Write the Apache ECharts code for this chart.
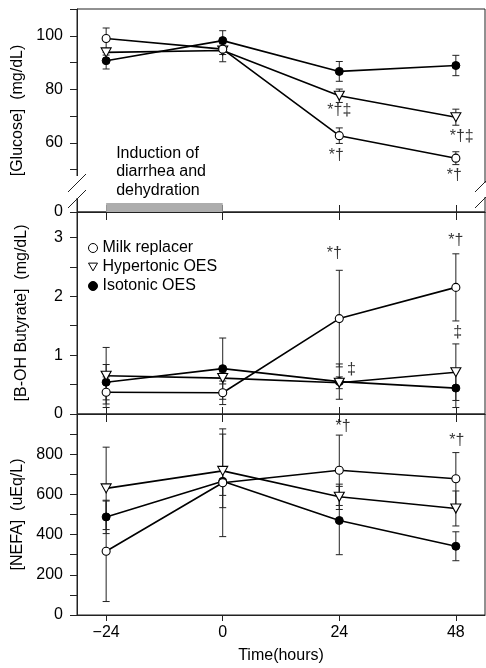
<!DOCTYPE html>
<html>
<head>
<meta charset="utf-8">
<script src="https://cdn.jsdelivr.net/npm/echarts@6/dist/echarts.min.js"></script>
<style>
  html, body { margin: 0; padding: 0; background: #fff; }
  #main { width: 486px; height: 668px; }
</style>
</head>
<body>
<div id="main"></div>
<script>
// time points (hours)
var hours = [-24, 0, 24, 48];

// [Glucose] mg/dL, mean and SE
var milkGlu = [99.0, 95.0, 62.7, 54.3];
var milkGluSE = [3.9, 2.0, 2.9, 2.4];
var hyperGlu = [93.8, 94.5, 77.6, 69.6];
var hyperGluSE = [1.0, 4.2, 2.5, 3.0];
var isoGlu = [90.7, 98.2, 86.7, 88.9];
var isoGluSE = [3.1, 3.7, 3.7, 3.8];

// [B-OH Butyrate] mg/dL
var milkBhb = [0.37, 0.36, 1.62, 2.15];
var milkBhbSE = [0.26, 0.20, 0.82, 0.57];
var hyperBhb = [0.65, 0.61, 0.53, 0.71];
var hyperBhbSE = [0.48, 0.10, 0.10, 0.48];
var isoBhb = [0.54, 0.77, 0.55, 0.44];
var isoBhbSE = [0.30, 0.52, 0.30, 0.33];

// [NEFA] uEq/L
var milkNefa = [317, 658, 720, 678];
var milkNefaSE = [250, 268, 175, 130];
var hyperNefa = [630, 717, 588, 530];
var hyperNefaSE = [205, 183, 63, 87];
var isoNefa = [488, 665, 470, 342];
var isoNefaSE = [83, 70, 170, 72];

// significance marks [x, y, text]
var gluMarks = [[24, 72.0, '*†‡'], [23.4, 55.1, '*†'], [49.2, 62.2, '*†‡'], [47.7, 47.7, '*†']];
var bhbMarks = [[23, 2.73, '*†'], [26.5, 0.75, '‡'], [48, 2.95, '*†'], [48.4, 1.38, '‡']];
var nefaMarks = [[24.8, 935, '*†'], [48.2, 870, '*†']];

// tick labels
var xTicks = [-24, 0, 24, 48];
var gluLabels = [60, 80, 100];
var gluMinor = [50, 60, 70, 80, 90, 100, 110];
var bhbLabels = [0, 1, 2, 3];
var bhbMinor = [0, 0.5, 1, 1.5, 2, 2.5, 3];
var nefaLabels = [0, 200, 400, 600, 800];
var nefaMinor = [0, 100, 200, 300, 400, 500, 600, 700, 800, 900, 1000];

// induction period
var induction = [-24, 0];

var GLU_BREAK = 34.2;   // value drawn as "0" below the axis break
var FONT = 'Liberation Sans, Arial, sans-serif';
var TRI = 'path://M0,0L10,0L5,8.66Z';
var names = ['Milk replacer', 'Hypertonic OES', 'Isotonic OES'];

var myChart = echarts.init(document.getElementById('main'));

function pairs(vals) {
  return hours.map(function (h, i) { return [h, vals[i]]; });
}
function errs(vals, se) {
  return hours.map(function (h, i) { return [h, vals[i] - se[i], vals[i] + se[i]]; });
}

function renderErr(params, api) {
  var x = api.value(0);
  var top = api.coord([x, api.value(2)]);
  var bot = api.coord([x, api.value(1)]);
  var w = 3.5;
  var st = { stroke: '#222', lineWidth: 1 };
  return {
    type: 'group',
    children: [
      { type: 'line', shape: { x1: top[0], y1: top[1], x2: bot[0], y2: bot[1] }, style: st },
      { type: 'line', shape: { x1: top[0] - w, y1: top[1], x2: top[0] + w, y2: top[1] }, style: st },
      { type: 'line', shape: { x1: bot[0] - w, y1: bot[1], x2: bot[0] + w, y2: bot[1] }, style: st }
    ]
  };
}

var styles = [
  { symbol: 'circle', symbolSize: 8, itemStyle: { color: '#fff', borderColor: '#000', borderWidth: 1.1 } },
  { symbol: TRI, symbolSize: [10, 9], itemStyle: { color: '#fff', borderColor: '#000', borderWidth: 1.1 } },
  { symbol: 'circle', symbolSize: 8, itemStyle: { color: '#000', borderColor: '#000', borderWidth: 1 } }
];

function panel(idx, sets, marks) {
  var out = [];
  sets.forEach(function (s, k) {
    out.push({
      type: 'custom', name: names[k], xAxisIndex: idx.x, yAxisIndex: idx.y,
      renderItem: renderErr, data: errs(s[0], s[1]), encode: { x: 0, y: [1, 2] },
      itemStyle: styles[k].itemStyle, z: 1, silent: true
    });
  });
  sets.forEach(function (s, k) {
    out.push({
      type: 'line', name: names[k], xAxisIndex: idx.x, yAxisIndex: idx.y,
      data: pairs(s[0]), symbol: styles[k].symbol, symbolSize: styles[k].symbolSize,
      showAllSymbol: true, itemStyle: styles[k].itemStyle,
      lineStyle: { color: '#000', width: 1.6 }, z: 3.5 - k * 0.1, silent: true
    });
  });
  out.push({
    type: 'scatter', xAxisIndex: idx.x, yAxisIndex: idx.y, data: marks,
    symbolSize: 1, itemStyle: { color: 'rgba(0,0,0,0)' }, z: 5, silent: true,
    label: {
      show: true, position: 'inside', color: '#000', fontSize: 16, fontFamily: FONT,
      formatter: function (p) { return p.value[2]; }
    }
  });
  return out;
}

function xAx(grid, pos, inside, len, showLabel) {
  return {
    type: 'value', gridIndex: grid, position: pos, min: -30, max: 54,
    splitLine: { show: false },
    axisLine: { show: true, onZero: false, lineStyle: { color: '#222', width: 1 } },
    axisTick: { show: true, inside: inside, length: len, customValues: xTicks, lineStyle: { color: '#222' } },
    axisLabel: {
      show: showLabel, customValues: xTicks, margin: 10, color: '#000', fontSize: 16, fontFamily: FONT,
      formatter: function (v) { return v < 0 ? '\u2212' + Math.abs(v) : String(v); }
    }
  };
}

function yAx(grid, min, max, labels, minor, name, fmt, nameGap) {
  return {
    type: 'value', gridIndex: grid, min: min, max: max, position: 'left',
    name: name, nameLocation: 'middle', nameGap: nameGap, nameRotate: 90,
    nameTextStyle: { color: '#000', fontSize: 16, fontFamily: FONT },
    splitLine: { show: false },
    axisLine: { show: true, onZero: false, lineStyle: { color: '#222', width: 1 } },
    axisTick: { show: true, inside: false, length: 7, customValues: minor, lineStyle: { color: '#222' } },
    axisLabel: {
      customValues: labels, margin: 14, color: '#000', fontSize: 16, fontFamily: FONT,
      formatter: fmt || function (v) { return String(v); }
    }
  };
}

var gridBase = { left: 77, right: 1, show: true, borderColor: '#222', borderWidth: 1,
  backgroundColor: 'transparent', containLabel: false, outerBoundsMode: 'none' };

var xName = xAx(2, 'bottom', false, 6, true);
xName.name = 'Time(hours)';
xName.nameLocation = 'middle';
xName.nameGap = 33;
xName.nameTextStyle = { color: '#000', fontSize: 16, fontFamily: FONT };

var series = []
  .concat(panel({ x: 0, y: 0 }, [[milkGlu, milkGluSE], [hyperGlu, hyperGluSE], [isoGlu, isoGluSE]], gluMarks))
  .concat(panel({ x: 2, y: 1 }, [[milkBhb, milkBhbSE], [hyperBhb, hyperBhbSE], [isoBhb, isoBhbSE]], bhbMarks))
  .concat(panel({ x: 4, y: 2 }, [[milkNefa, milkNefaSE], [hyperNefa, hyperNefaSE], [isoNefa, isoNefaSE]], nefaMarks));

// induction period bar on the glucose panel
series.push({
  type: 'line', xAxisIndex: 0, yAxisIndex: 0, data: [], silent: true,
  markArea: {
    silent: true,
    itemStyle: { color: '#adadad' },
    label: {
      show: true, position: [10, -59], align: 'left', verticalAlign: 'top',
      color: '#000', fontSize: 16, lineHeight: 18.5, fontFamily: FONT,
      formatter: 'Induction of\ndiarrhea and\ndehydration'
    },
    data: [[{ coord: [induction[0], GLU_BREAK] }, { coord: [induction[1], GLU_BREAK + 3.4] }]]
  }
});

var option = {
  animation: false,
  backgroundColor: '#fff',
  textStyle: { fontFamily: FONT },
  grid: [
    Object.assign({ top: 9, height: 203 }, gridBase),
    Object.assign({ top: 212, height: 202 }, gridBase),
    Object.assign({ top: 414, height: 201 }, gridBase)
  ],
  legend: {
    orient: 'vertical', left: 83, top: 235, itemWidth: 9, itemHeight: 9, itemGap: 3,
    selectedMode: false,
    textStyle: { fontSize: 16, color: '#000', lineHeight: 16, fontFamily: FONT },
    data: [
      { name: names[0], icon: 'circle', itemStyle: { color: '#fff', borderColor: '#000', borderWidth: 1 } },
      { name: names[1], icon: TRI, itemStyle: { color: '#fff', borderColor: '#000', borderWidth: 1 } },
      { name: names[2], icon: 'circle', itemStyle: { color: '#000', borderColor: '#000', borderWidth: 1 } }
    ]
  },
  xAxis: [
    xAx(0, 'bottom', true, 7, false),
    xAx(1, 'top', true, 8, false),
    xAx(1, 'bottom', true, 7, false),
    xAx(2, 'top', true, 8, false),
    xName
  ],
  yAxis: [
    yAx(0, GLU_BREAK, 110, [GLU_BREAK].concat(gluLabels), [GLU_BREAK].concat(gluMinor),
      '[Glucose]  (mg/dL)', function (v) { return v < 40 ? '0' : String(v); }, 47),
    yAx(1, 0, 3.43, bhbLabels, bhbMinor, '[B-OH Butyrate]  (mg/dL)', null, 47),
    yAx(2, 0, 1000, nefaLabels, nefaMinor, '[NEFA]  (uEq/L)', null, 47)
  ],
  graphic: [
    { type: 'rect', z: 100, shape: { x: 74, y: 176, width: 6, height: 22 }, style: { fill: '#fff' } },
    { type: 'rect', z: 100, shape: { x: 482, y: 183, width: 4, height: 14 }, style: { fill: '#fff' } },
    { type: 'line', z: 101, shape: { x1: 68, y1: 192, x2: 86, y2: 174 }, style: { stroke: '#222', lineWidth: 1 } },
    { type: 'line', z: 101, shape: { x1: 68, y1: 208, x2: 86, y2: 190 }, style: { stroke: '#222', lineWidth: 1 } },
    { type: 'line', z: 101, shape: { x1: 475, y1: 192, x2: 486, y2: 181 }, style: { stroke: '#222', lineWidth: 1 } },
    { type: 'line', z: 101, shape: { x1: 475, y1: 208, x2: 486, y2: 197 }, style: { stroke: '#222', lineWidth: 1 } }
  ],
  series: series
};

myChart.setOption(option);
</script>
</body>
</html>
